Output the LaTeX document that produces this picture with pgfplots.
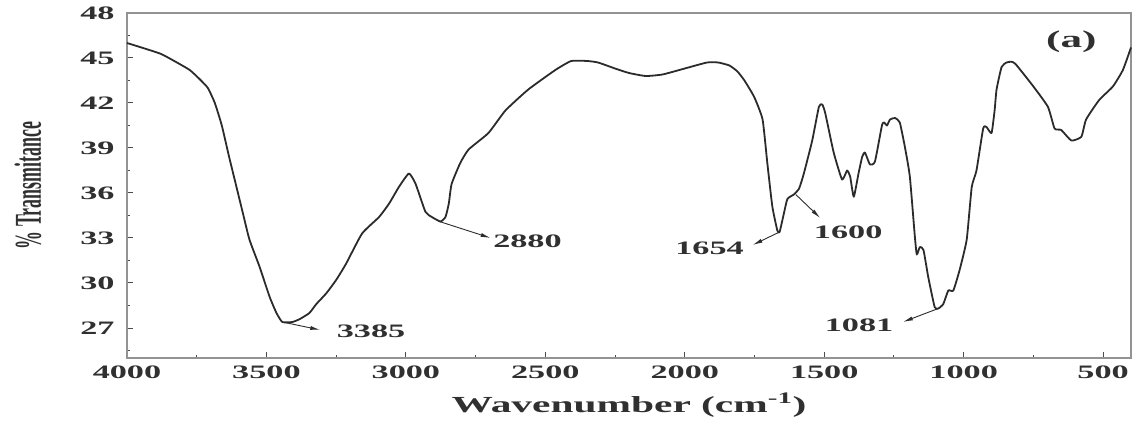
\documentclass[border=0pt]{standalone}
\usepackage{fontspec}
\setmainfont{Liberation Serif}
\newfontfamily\wfont{Liberation Serif}[FakeStretch=1.8]
\newfontfamily\cfont{Liberation Serif}[FakeStretch=0.47]
\usepackage{pgfplots}
\pgfplotsset{compat=1.18}
\usetikzlibrary{arrows.meta}
\definecolor{curve}{HTML}{2B2B2B}
\definecolor{txt}{HTML}{303030}
\begin{document}
\begin{tikzpicture}
\useasboundingbox (-127pt,-67pt) rectangle (1012pt,358pt);
\begin{axis}[
  at={(0pt,0pt)}, anchor=south west,
  scale only axis, width=1004pt, height=345pt,
  x dir=reverse, xmin=400, xmax=4000, ymin=25, ymax=48,
  xtick={500,1000,...,4000}, minor xtick={750,1250,...,3750},
  ytick={27,30,...,48}, minor ytick={25.5,28.5,...,46.5},
  tick pos=left, tick align=inside,
  major tick length=6pt, minor tick length=3pt,
  axis line style={draw=gray!85, line width=1.3pt},
  tick style={draw=gray!60!black, line width=1pt},
  scaled x ticks=false,
  /pgf/number format/1000 sep={},
  /pgf/number format/assume math mode=true,
  xticklabel style={font=\wfont\bfseries\fontsize{19}{19}\selectfont, text=txt, yshift=-4pt},
  yticklabel style={font=\wfont\bfseries\fontsize{19}{19}\selectfont, text=txt, xshift=-9pt},
  xlabel={Wavenumber (cm\textsuperscript{-1})},
  xlabel style={font=\wfont\bfseries\fontsize{23}{23}\selectfont, text=txt, at={(axis description cs:0.5,-0.136)}, anchor=center},
  ylabel={\% Transmitance},
  ylabel style={font=\cfont\bfseries\fontsize{38}{38}\selectfont, text=txt, at={(axis description cs:-0.0986,0.5)}, anchor=center, rotate=0},
  clip=false,
]
\addplot[curve, line width=1.8pt, line join=round, smooth, tension=0.3] table {
x y
4000 46.0
3882 45.3
3821 44.7
3775 44.2
3740 43.6
3710 43.0
3685 42.0
3660 40.5
3635 38.5
3610 36.6
3585 34.7
3561 32.9
3525 31.1
3489 29.1
3464 28.0
3443 27.4
3407 27.4
3380 27.6
3346 28.0
3321 28.6
3286 29.3
3250 30.2
3214 31.3
3157 33.3
3096 34.4
3060 35.3
3025 36.4
2989 37.3
2965 36.6
2930 34.75
2907 34.4
2876 34.1
2858 34.4
2846 35.3
2836 36.6
2805 38.0
2775 38.9
2704 40.0
2643 41.5
2561 42.9
2464 44.2
2407 44.8
2350 44.8
2311 44.7
2250 44.3
2200 44.0
2140 43.8
2080 43.9
2000 44.3
1920 44.7
1880 44.7
1840 44.5
1811 44.1
1786 43.5
1751 42.4
1721 40.9
1704 38.0
1686 35.1
1668 33.5
1660 33.4
1645 34.6
1632 35.6
1609 35.9
1590 36.3
1573 37.3
1543 39.5
1519 41.75
1507 41.9
1496 41.3
1466 38.7
1436 36.9
1418 37.5
1407 37.1
1394 35.75
1377 37.3
1364 38.4
1354 38.7
1336 37.9
1318 38.1
1293 40.5
1285 40.7
1275 40.5
1264 40.9
1246 41.0
1229 40.7
1211 39.1
1193 37.1
1175 33.1
1168 31.9
1157 32.4
1144 32.2
1127 30.4
1104 28.4
1091 28.3
1073 28.6
1055 29.5
1037 29.5
1014 30.9
989 32.9
971 36.4
954 37.5
930 40.3
918 40.4
900 40.0
889 41.5
882 42.9
864 44.4
846 44.7
829 44.75
814 44.6
754 43.2
698 41.75
674 40.3
650 40.2
614 39.5
578 39.75
561 40.9
514 42.2
465 43.1
429 44.2
400 45.7
};
\tikzset{ann/.style={font=\wfont\bfseries\fontsize{19}{19}\selectfont, text=txt},
         arr/.style={draw=curve, line width=0.9pt, -{Latex[length=10pt,width=4pt]}}}
\draw[arr] (axis cs:3430,27.35) -- (axis cs:3307,26.87);
\node[ann] at (axis cs:3125,26.8) {3385};
\draw[arr] (axis cs:2880,34.1) -- (axis cs:2696,33.0);
\node[ann] at (axis cs:2564,32.8) {2880};
\draw[arr] (axis cs:1660,33.4) -- (axis cs:1757,32.53);
\node[ann] at (axis cs:1911,32.33) {1654};
\draw[arr] (axis cs:1602,35.9) -- (axis cs:1514,34.33);
\node[ann] at (axis cs:1414,33.4) {1600};
\draw[arr] (axis cs:1091,28.3) -- (axis cs:1218,27.4);
\node[ann] at (axis cs:1375,27.2) {1081};
\node[font=\wfont\bfseries\fontsize{24}{24}\selectfont, text=txt] at (axis cs:614,46.07) {(a)};
\end{axis}
\end{tikzpicture}
\end{document}
